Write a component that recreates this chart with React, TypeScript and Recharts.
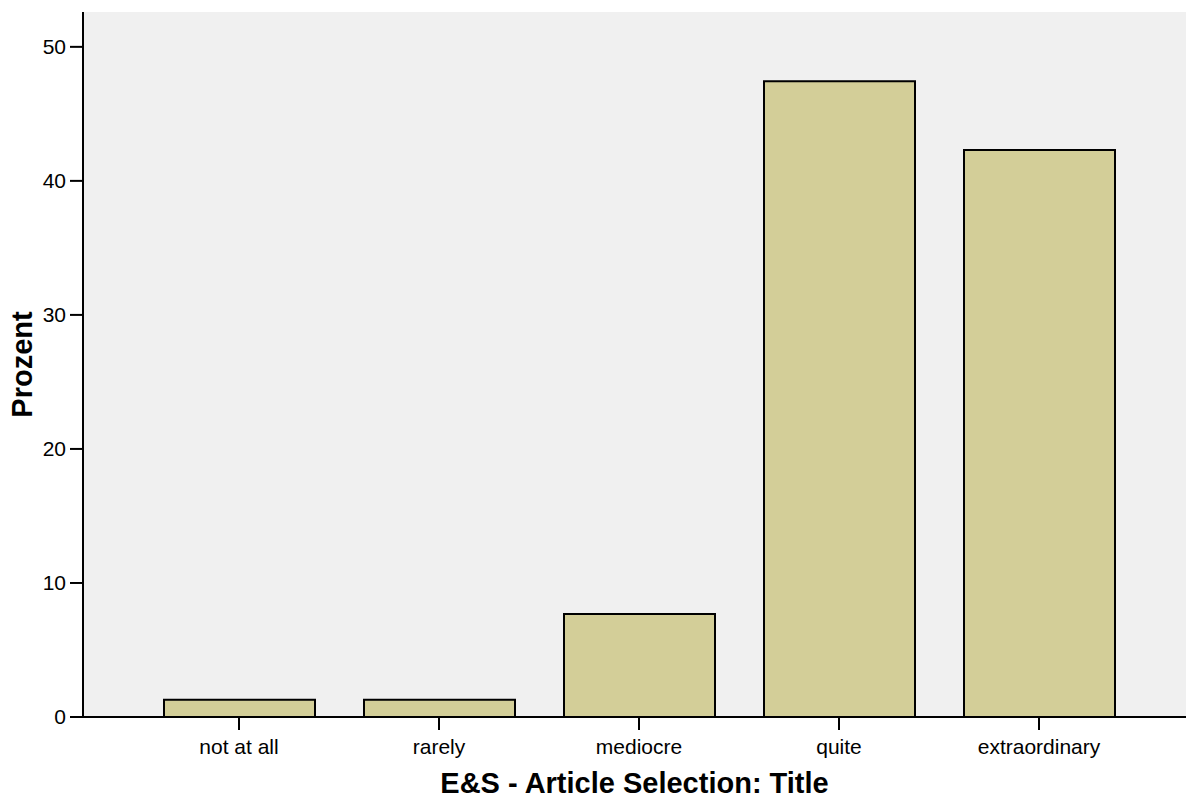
import React from 'react';
import { BarChart, Bar, XAxis, YAxis, CartesianGrid, Label } from 'recharts';

// Percent of answers per category (n = 78)
const categories = ['not at all', 'rarely', 'mediocre', 'quite', 'extraordinary'];
const percents = [1.28, 1.28, 7.69, 47.44, 42.31];
const yTicks = [0, 10, 20, 30, 40, 50];

const data = categories.map((name, i) => ({ name, value: percents[i] }));

const FONT = '"Liberation Sans", Arial, sans-serif';

export default function App() {
  return (
    <div style={{ position: 'absolute', left: 0, top: 0, background: '#fff' }}>
      <BarChart
        width={1186}
        height={798}
        data={data}
        margin={{ top: 12, right: 0, bottom: 0, left: 0 }}
        style={{ fontFamily: FONT }}
      >
        <CartesianGrid fill="#f0f0f0" horizontal={false} vertical={false} />
        <XAxis
          dataKey="name"
          height={81}
          padding={{ left: 56, right: 47 }}
          stroke="#000"
          strokeWidth={2}
          tickSize={13}
          tickMargin={9}
          tick={{ fill: '#000', fontSize: 21, fontFamily: FONT }}
          interval={0}
        >
          <Label
            value="E&S - Article Selection: Title"
            position="insideBottom"
            offset={5}
            style={{ fontSize: 29, fontWeight: 'bold', fill: '#000', fontFamily: FONT }}
          />
        </XAxis>
        <XAxis
          xAxisId="top"
          orientation="top"
          dataKey="name"
          height={0}
          tick={false}
          tickLine={false}
          stroke="#000"
          strokeWidth={2}
        />
        <YAxis
          width={83}
          domain={[0, 52.6]}
          ticks={yTicks}
          stroke="#000"
          strokeWidth={2}
          tickSize={13}
          tickMargin={4}
          tick={{ fill: '#000', fontSize: 21, fontFamily: FONT }}
        >
          <Label
            content={({ viewBox }: any) => {
              const cx = 22;
              const cy = viewBox.y + viewBox.height / 2;
              return (
                <text
                  x={cx}
                  y={cy}
                  transform={`rotate(-90 ${cx} ${cy})`}
                  textAnchor="middle"
                  dominantBaseline="central"
                  style={{ fontSize: 29, fontWeight: 'bold', fill: '#000', fontFamily: FONT }}
                >
                  Prozent
                </text>
              );
            }}
          />
        </YAxis>
        <Bar
          dataKey="value"
          fill="#d3ce98"
          stroke="#000"
          strokeWidth={2}
          barSize={151}
          isAnimationActive={false}
        />
      </BarChart>
    </div>
  );
}
